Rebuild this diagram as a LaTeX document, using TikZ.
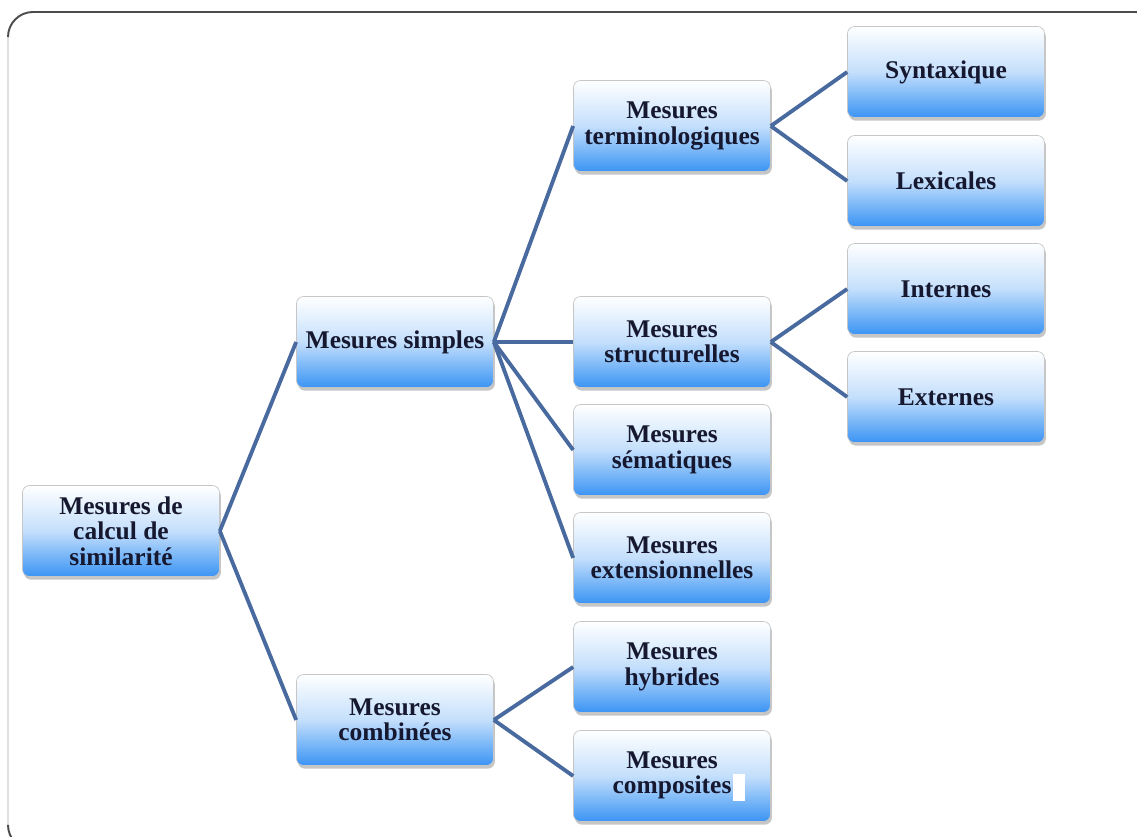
\documentclass[tikz,border=0pt]{standalone}
\usepackage{fontspec}
\setmainfont{Liberation Serif}
\usepackage{tikz}
\usetikzlibrary{shadows}

\definecolor{linkblue}{RGB}{72,106,158}
\definecolor{boxblue}{RGB}{58,148,244}
\definecolor{textnavy}{RGB}{22,24,48}

\tikzset{
  box/.style={rounded corners=4pt, minimum width=3.94cm, minimum height=1.82cm,
    align=center, inner sep=1pt,
    top color=white, bottom color=boxblue, middle color=boxblue!30,
    draw=gray!45, line width=0.4pt,
    drop shadow={shadow xshift=0.8pt, shadow yshift=-1.8pt, opacity=0.45, fill=gray},
    font=\fontsize{14.5}{14.5}\selectfont\bfseries, text=textnavy},
  link/.style={draw=linkblue, line width=2.2pt}
}

\begin{document}
\begin{tikzpicture}[x=0.02cm, y=-0.02cm]
  \useasboundingbox (0,0) rectangle (1137,837);
  % Frame
  \begin{scope}
    \clip (0,0) rectangle (1137,837);
    \draw[gray!25, line width=0.8pt] (8,36) -- (8,825);
    \draw[gray!60!black, line width=1.1pt] (8,37) [rounded corners=0.5cm] -- (8,12) -- (1160,12) -- (1160,60);
    \draw[gray!60!black, line width=1.1pt] (8,825) [rounded corners=0.5cm] -- (8,850) -- (60,850);
  \end{scope}
  % Root
  \node[box] (root) at (121,531) {Mesures de\\calcul de\\similarit\'e};
  % First level
  \node[box] (simples) at (395,342) {Mesures simples};
  \node[box] (combinees) at (395,720) {Mesures\\combin\'ees};
  % Second level
  \node[box] (termino) at (672,126) {Mesures\\terminologiques};
  \node[box] (struct) at (672,342) {Mesures\\structurelles};
  \node[box] (semant) at (672,450) {Mesures\\s\'ematiques};
  \node[box] (extens) at (672,558) {Mesures\\extensionnelles};
  \node[box] (hybrid) at (672,667) {Mesures\\hybrides};
  \node[box] (compos) at (672,776) {Mesures\\composites\rlap{\hspace{1pt}\textcolor{white}{\rule[-4pt]{7pt}{15pt}}}};
  % Third level
  \node[box] (syntax) at (946,72) {Syntaxique};
  \node[box] (lexic) at (946,181) {Lexicales};
  \node[box] (intern) at (946,289) {Internes};
  \node[box] (extern) at (946,397) {Externes};
  % Connectors
  \draw[link] (root.east) -- (simples.west);
  \draw[link] (root.east) -- (combinees.west);
  \foreach \child in {termino,struct,semant,extens}
    \draw[link] (simples.east) -- (\child.west);
  \foreach \child in {hybrid,compos}
    \draw[link] (combinees.east) -- (\child.west);
  \draw[link] (termino.east) -- (syntax.west);
  \draw[link] (termino.east) -- (lexic.west);
  \draw[link] (struct.east) -- (intern.west);
  \draw[link] (struct.east) -- (extern.west);
\end{tikzpicture}
\end{document}
